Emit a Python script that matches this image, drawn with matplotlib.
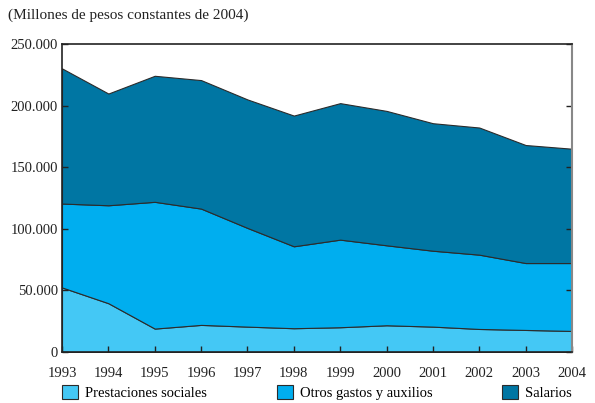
import matplotlib.pyplot as plt
from matplotlib.ticker import FuncFormatter

# values (thousands of millions of pesos, cumulative tops)
years = [1993, 1994, 1995, 1996, 1997, 1998, 1999, 2000, 2001, 2002, 2003, 2004]
prestaciones = [52.4, 39.6, 19.0, 22.0, 20.6, 19.3, 20.1, 21.7, 20.6, 18.7, 17.9, 17.1]
top_otros = [120.5, 119.1, 121.9, 116.4, 100.7, 85.8, 91.2, 86.6, 82.2, 79.0, 72.2, 72.2]
top_total = [230.2, 209.8, 224.2, 220.7, 205.0, 191.9, 202.0, 195.7, 185.7, 182.2, 168.0, 165.0]

labels = ["Prestaciones sociales", "Otros gastos y auxilios", "Salarios"]
colors = ["#44C8F5", "#00AEEF", "#0076A3"]

otros = [(t - p) * 1000 for t, p in zip(top_otros, prestaciones)]
salarios = [(t - o) * 1000 for t, o in zip(top_total, top_otros)]
prest = [p * 1000 for p in prestaciones]

plt.rcParams["font.family"] = "Liberation Serif"

fig = plt.figure(figsize=(5.95, 4.03), dpi=100)
ax = fig.add_axes([62 / 595, 1 - 352 / 403, 510 / 595, 308 / 403])

ax.stackplot(years, prest, otros, salarios, colors=colors, labels=labels,
             edgecolor="#2b2b2b", linewidth=0.8)

ax.set_xlim(1993, 2004)
ax.set_ylim(0, 250000)
ax.set_xticks(years)
ax.set_yticks([0, 50000, 100000, 150000, 200000, 250000])
ax.yaxis.set_major_formatter(FuncFormatter(lambda v, p: f"{int(v):,}".replace(",", ".")))
ax.tick_params(direction="in", length=4, width=1, labelsize=10.5, colors="#222222",
               right=True, left=True, bottom=True, top=False)
ax.tick_params(axis="x", pad=11)
ax.tick_params(axis="y", pad=3)
for s in ["left", "bottom", "top"]:
    ax.spines[s].set_color("#222222")
    ax.spines[s].set_linewidth(1.2)
ax.spines["right"].set_color("#888888")
ax.spines["right"].set_linewidth(1.5)

fig.text(8 / 595, 1 - 15 / 403, "(Millones de pesos constantes de 2004)",
         fontsize=11, va="center", ha="left", color="#222222")

ax.legend(loc="upper left", bbox_to_anchor=(0, -0.157, 1, 0.05), ncol=3, mode="expand",
          frameon=False, fontsize=10.5, handlelength=1.1, handleheight=1.1,
          handletextpad=0.5, borderaxespad=0, borderpad=0)
leg = ax.get_legend()
for h in leg.legend_handles:
    h.set_edgecolor("#2b2b2b")
    h.set_linewidth(0.8)

fig.savefig("out.png", dpi=100)
